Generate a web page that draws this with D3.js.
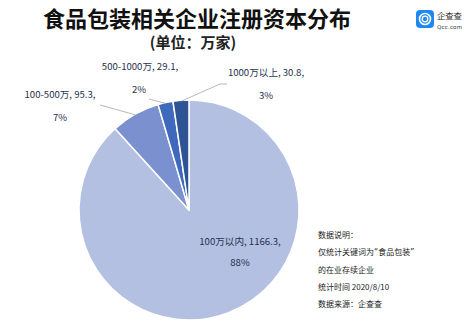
<!DOCTYPE html>
<html><head><meta charset="utf-8">
<script src="https://cdn.jsdelivr.net/npm/d3@7"></script>
<style>
html,body{margin:0;padding:0;background:#fff;}
svg{display:block;font-family:"Noto Sans CJK SC","Noto Sans",sans-serif;}
</style></head>
<body>
<svg id="c" width="476" height="331"></svg>
<script>
const categories = ["100万以内", "100-500万", "500-1000万", "1000万以上"];
const values = [1166.3, 95.3, 29.1, 30.8];
const percents = ["88%", "7%", "2%", "3%"];
const colors = ["#b4c0e2", "#7a90cf", "#3f69bd", "#2f5496"];
const title = "食品包装相关企业注册资本分布";
const subtitle = "(单位：万家)";
const notes = [["数据说明："], ["仅统计关键词为", "\u201C", "食品包装", "\u201D"], ["的在业存续企业"], ["统计时间 2020/8/10"], ["数据来源：企查查"]];

// label layout: center of first line (x,y), and leader line elbow
const labelLayout = [
  {x: 240, y: 245, py: 266, inside: true},
  {x: 60, y: 98, py: 121, lead: [[100, 105]]},
  {x: 140, y: 70, px: 139, py: 93, lead: [[149, 99]]},
  {x: 266, y: 76, px: 266, py: 99, lead: [[220, 84], [227, 84]]}
];

const svg = d3.select("#c");
const cx = 189, cy = 210, R = 110;

svg.append("text").attr("x", 197).attr("y", 27).attr("text-anchor", "middle")
  .attr("font-size", 22).attr("font-weight", 700).attr("fill", "#111").text(title);
svg.append("text").attr("x", 193).attr("y", 48).attr("text-anchor", "middle")
  .attr("font-size", 15).attr("font-weight", 700).attr("fill", "#222").text(subtitle);

// logo
const logo = svg.append("g").attr("transform", "translate(416,10)");
logo.append("rect").attr("width", 18).attr("height", 18).attr("rx", 4).attr("fill", "#1e88f0");
logo.append("circle").attr("cx", 9).attr("cy", 9).attr("r", 5.5).attr("fill", "none").attr("stroke", "#fff").attr("stroke-width", 1.6);
logo.append("circle").attr("cx", 9).attr("cy", 9).attr("r", 2.8).attr("fill", "none").attr("stroke", "#fff").attr("stroke-width", 1.3);
logo.append("text").attr("x", 21).attr("y", 9).attr("font-size", 8.5).attr("fill", "#333").attr("textLength", 25).text("企查查");
logo.append("text").attr("x", 21).attr("y", 18.5).attr("font-size", 5.5).attr("fill", "#333")
  .attr("font-family", "DejaVu Sans").attr("textLength", 25).text("Qcc.com");

const pie = d3.pie().sort(null).value(d => d)(values);
const arc = d3.arc().innerRadius(0).outerRadius(R);
const g = svg.append("g").attr("transform", `translate(${cx},${cy})`);
g.selectAll("path").data(pie).join("path")
  .attr("d", arc).attr("fill", (d, i) => colors[i])
  .attr("stroke", "#fff").attr("stroke-width", 1.5).attr("stroke-linejoin", "round");

// leader lines
pie.forEach((d, i) => {
  const L = labelLayout[i];
  if (!L.lead) return;
  const a = (d.startAngle + d.endAngle) / 2;
  const ex = cx + (R - 1) * Math.sin(a), ey = cy - (R - 1) * Math.cos(a);
  const pts = [[ex, ey], ...L.lead];
  svg.append("path").attr("d", d3.line()(pts)).attr("fill", "none")
    .attr("stroke", "#a6a6a6").attr("stroke-width", 0.8);
});

// labels
pie.forEach((d, i) => {
  const L = labelLayout[i];
  const t = svg.append("g").attr("font-size", 9.6).attr("fill", "#263250").attr("text-anchor", "middle");
  t.append("text").attr("x", L.x).attr("y", L.y).text(`${categories[i]}, ${values[i]},`);
  const px = L.px !== undefined ? L.px : L.x;
  const py = L.py !== undefined ? L.py : L.y + 21;
  t.append("text").attr("x", px).attr("y", py).text(percents[i]);
});

// notes
const ng = svg.append("g").attr("font-size", 8).attr("fill", "#222");
notes.forEach((parts, i) => {
  const t = ng.append("text").attr("x", 318).attr("y", 238 + i * 17.3);
  parts.forEach(s => {
    const sp = t.append("tspan").text(s);
    if (s === "\u201C" || s === "\u201D") sp.attr("font-family", "DejaVu Sans");
  });
});
</script>
</body></html>
